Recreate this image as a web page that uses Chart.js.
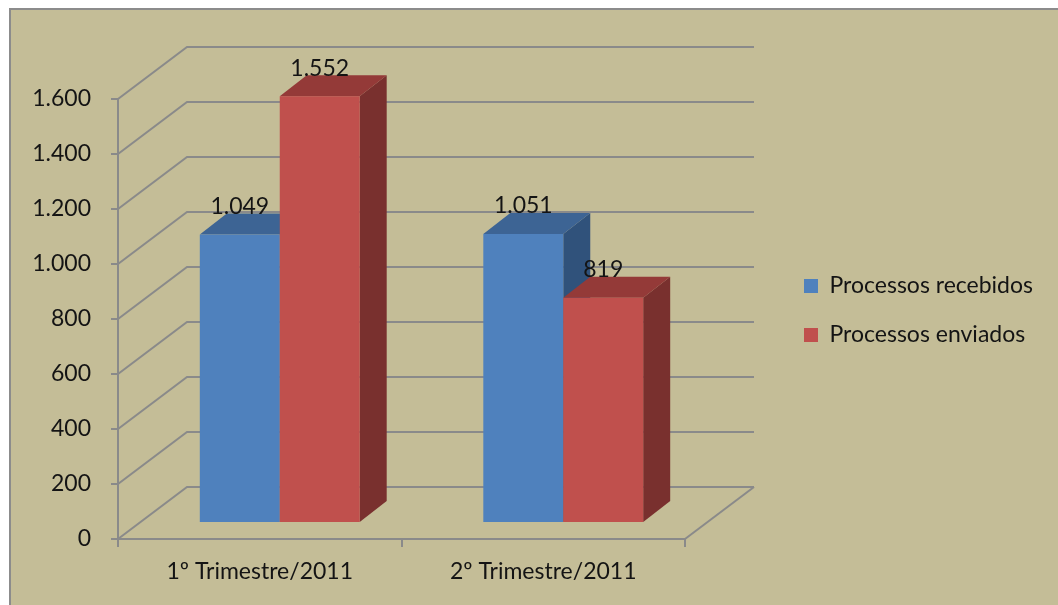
<!DOCTYPE html>
<html>
<head>
<meta charset="utf-8">
<script src="https://cdn.jsdelivr.net/npm/chart.js@4.4.0/dist/chart.umd.min.js"></script>
<style>
  html, body { margin: 0; padding: 0; background: #fff; }
</style>
</head>
<body>
<canvas id="chart" width="1058" height="605"></canvas>
<script>
var categories = ['1º Trimestre/2011', '2º Trimestre/2011'];
var seriesNames = ['Processos recebidos', 'Processos enviados'];
var recebidos = [1049, 1051];
var enviados = [1552, 819];
var yMin = 0, yMax = 1600, yStep = 200;

// excel-ish 3d look
var WALL = { x: 69, y: -52 };
var SHIFT = { x: 20, y: -16 };
var DEPTH = { x: 27, y: -21 };
var faces = [
  { front: '#4F81BD', top: '#3D6494', side: '#30527B' },
  { front: '#C0504D', top: '#943A38', side: '#79302E' }
];
var gridColor = '#8a8a8a';
var textColor = '#141414';
var font = 'Lato';
var padRight = 15;

function fmt(v) {
  return String(v).replace(/\B(?=(\d{3})+(?!\d))/g, '.');
}

function drawBar(ctx, el, c) {
  var half = el.width / 2;
  var x0 = el.x - half + SHIFT.x, x1 = el.x + half + SHIFT.x;
  var yt = el.y + SHIFT.y, yb = el.base + SHIFT.y;
  ctx.fillStyle = c.side;
  ctx.beginPath();
  ctx.moveTo(x1, yt);
  ctx.lineTo(x1 + DEPTH.x, yt + DEPTH.y);
  ctx.lineTo(x1 + DEPTH.x, yb + DEPTH.y);
  ctx.lineTo(x1, yb);
  ctx.closePath();
  ctx.fill();
  ctx.fillStyle = c.top;
  ctx.beginPath();
  ctx.moveTo(x0, yt);
  ctx.lineTo(x0 + DEPTH.x, yt + DEPTH.y);
  ctx.lineTo(x1 + DEPTH.x, yt + DEPTH.y);
  ctx.lineTo(x1, yt);
  ctx.closePath();
  ctx.fill();
  ctx.fillStyle = c.front;
  ctx.fillRect(x0, yt, x1 - x0, yb - yt);
}

var bars3d = {
  id: 'bars3d',
  beforeDraw: function(chart) {
    var ctx = chart.ctx;
    ctx.save();
    ctx.fillStyle = '#fff';
    ctx.fillRect(0, 0, chart.width, chart.height);
    ctx.fillStyle = '#C4BD97';
    ctx.fillRect(9, 8, chart.width - 9, chart.height - 8);
    ctx.fillStyle = '#8c8c8c';
    ctx.fillRect(9, 8, chart.width - 9, 2);
    ctx.fillRect(9, 8, 2, chart.height - 8);
    ctx.restore();
  },
  beforeDatasetsDraw: function(chart) {
    var ctx = chart.ctx, area = chart.chartArea, ys = chart.scales.y;
    ctx.save();
    // back wall + side wall lines
    ctx.strokeStyle = gridColor;
    ctx.lineWidth = 2;
    ys.ticks.forEach(function(t) {
      var y = ys.getPixelForValue(t.value);
      ctx.beginPath();
      ctx.moveTo(area.left, y);
      ctx.lineTo(area.left + WALL.x, y + WALL.y);
      ctx.lineTo(area.right + WALL.x, y + WALL.y);
      ctx.stroke();
    });
    ctx.beginPath();
    ctx.moveTo(area.right, area.bottom);
    ctx.lineTo(area.right + WALL.x, area.bottom + WALL.y);
    ctx.stroke();

    var n = categories.length;
    for (var i = 0; i < n; i++) {
      for (var d = 0; d < chart.data.datasets.length; d++) {
        drawBar(ctx, chart.getDatasetMeta(d).data[i], faces[d]);
      }
    }
    // value labels
    ctx.fillStyle = textColor;
    ctx.font = '23px ' + font;
    ctx.textAlign = 'center';
    ctx.textBaseline = 'middle';
    chart.data.datasets.forEach(function(ds, d) {
      chart.getDatasetMeta(d).data.forEach(function(el, i) {
        ctx.fillText(fmt(ds.data[i]), el.x + SHIFT.x, el.y - 44);
      });
    });
    ctx.restore();
    return false;
  }
};

var ctx = document.getElementById('chart');
var chart = new Chart(ctx, {
  type: 'bar',
  data: {
    labels: categories,
    datasets: [
      { label: seriesNames[0], data: recebidos, backgroundColor: faces[0].front, borderWidth: 0,
        categoryPercentage: 0.564, barPercentage: 1 },
      { label: seriesNames[1], data: enviados, backgroundColor: faces[1].front, borderWidth: 0,
        categoryPercentage: 0.564, barPercentage: 1 }
    ]
  },
  options: {
    responsive: false,
    animation: false,
    layout: { padding: { top: 99, right: padRight, bottom: 0, left: 0 } },
    plugins: {
      tooltip: { enabled: false },
      legend: {
        position: 'right',
        align: 'start',
        maxWidth: 320,
        title: { display: true, text: '', padding: { top: 137.5, bottom: 0 }, font: { size: 10 } },
        labels: {
          boxWidth: 14, boxHeight: 14, padding: 26, color: textColor,
          font: { family: font, size: 23 }
        }
      }
    },
    scales: {
      x: {
        ticks: { color: textColor, font: { family: font, size: 23 }, padding: 11 },
        grid: { drawOnChartArea: false, drawTicks: true, tickLength: 8, color: gridColor, lineWidth: 2, offset: true },
        border: { display: true, color: gridColor, width: 2 },
        afterFit: function(s) { s.height = 66; }
      },
      y: {
        min: yMin, max: yMax,
        ticks: { stepSize: yStep, color: textColor, font: { family: font, size: 23 }, padding: 20, callback: fmt },
        grid: { drawOnChartArea: false, drawTicks: true, tickLength: 7, color: gridColor, lineWidth: 2 },
        border: { display: true, color: gridColor, width: 2 },
        afterFit: function(s) { s.width = 118; }
      },
      gap: {
        type: 'linear', position: 'right', display: true,
        ticks: { display: false }, grid: { display: false }, border: { display: false },
        afterFit: function(s) {
          var lw = s.chart.legend ? s.chart.legend.width : 270;
          s.width = Math.max(0, s.chart.width - padRight - lw - 685);
        }
      }
    }
  },
  plugins: [bars3d]
});
</script>
</body>
</html>
